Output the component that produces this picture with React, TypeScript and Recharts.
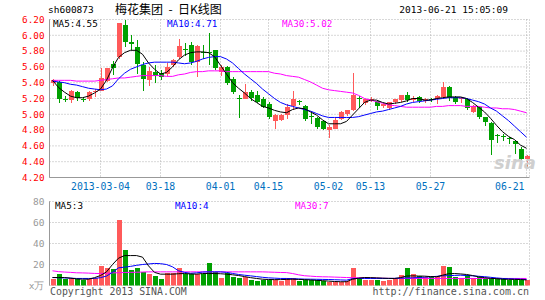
import React from "react";
import { Bar, CartesianGrid, ComposedChart, Line, XAxis, YAxis } from "recharts";

const dates = [
  "2013-02-20", "2013-02-21", "2013-02-22", "2013-02-25", "2013-02-26", "2013-02-27", "2013-02-28", "2013-03-01",
  "2013-03-04", "2013-03-05", "2013-03-06", "2013-03-07", "2013-03-08", "2013-03-11", "2013-03-12", "2013-03-13",
  "2013-03-14", "2013-03-15", "2013-03-18", "2013-03-19", "2013-03-20", "2013-03-21", "2013-03-22", "2013-03-25",
  "2013-03-26", "2013-03-27", "2013-03-28", "2013-03-29", "2013-04-01", "2013-04-02", "2013-04-03", "2013-04-08",
  "2013-04-09", "2013-04-10", "2013-04-11", "2013-04-12", "2013-04-15", "2013-04-16", "2013-04-17", "2013-04-18",
  "2013-04-19", "2013-04-22", "2013-04-23", "2013-04-24", "2013-04-25", "2013-04-26", "2013-05-02", "2013-05-03",
  "2013-05-06", "2013-05-07", "2013-05-08", "2013-05-09", "2013-05-10", "2013-05-13", "2013-05-14", "2013-05-15",
  "2013-05-16", "2013-05-17", "2013-05-20", "2013-05-21", "2013-05-22", "2013-05-23", "2013-05-24", "2013-05-27",
  "2013-05-28", "2013-05-29", "2013-05-30", "2013-05-31", "2013-06-03", "2013-06-04", "2013-06-05", "2013-06-06",
  "2013-06-07", "2013-06-13", "2013-06-14", "2013-06-17", "2013-06-18", "2013-06-19", "2013-06-20", "2013-06-21",
];

const open = [
  5.39, 5.41, 5.2, 5.18, 5.28, 5.2, 5.19, 5.28, 5.3, 5.42,
  5.64, 5.72, 6.13, 5.91, 5.85, 5.63, 5.43, 5.53, 5.52, 5.51,
  5.62, 5.72, 5.83, 5.88, 5.66, 5.79, 5.79, 5.81, 5.53, 5.6,
  5.45, 5.21, 5.2, 5.28, 5.25, 5.2, 5.13, 4.92, 4.93, 4.99,
  5.11, 5.17, 5.1, 4.98, 4.95, 4.91, 4.8, 4.82, 4.94, 5.0,
  5.06, 5.21, 5.14, 5.17, 5.17, 5.1, 5.08, 5.15, 5.18, 5.25,
  5.18, 5.22, 5.17, 5.2, 5.19, 5.22, 5.34, 5.22, 5.19, 5.19,
  5.03, 5.09, 4.96, 4.89, 4.74, 4.72, 4.7, 4.66, 4.56, 4.44,
];
const close = [
  5.44, 5.2, 5.19, 5.29, 5.21, 5.19, 5.28, 5.3, 5.46, 5.58,
  5.58, 6.15, 5.92, 5.89, 5.64, 5.45, 5.55, 5.48, 5.47, 5.6,
  5.69, 5.87, 5.81, 5.66, 5.86, 5.78, 5.77, 5.58, 5.6, 5.39,
  5.28, 5.19, 5.28, 5.21, 5.16, 5.09, 4.96, 4.99, 4.99, 5.09,
  5.19, 5.16, 4.94, 4.97, 4.84, 4.82, 4.84, 4.93, 5.03, 5.05,
  5.24, 5.2, 5.19, 5.2, 5.11, 5.13, 5.15, 5.19, 5.24, 5.18,
  5.21, 5.17, 5.2, 5.18, 5.23, 5.34, 5.21, 5.16, 5.21, 5.08,
  5.11, 4.96, 4.9, 4.68, 4.73, 4.71, 4.69, 4.62, 4.44, 4.47,
];
const high = [
  5.45, 5.42, 5.23, 5.31, 5.3, 5.22, 5.3, 5.32, 5.59, 5.59,
  5.68, 6.15, 6.2, 6.01, 5.94, 5.66, 5.6, 5.62, 5.56, 5.65,
  5.7, 5.95, 5.9, 5.91, 5.88, 5.88, 6.03, 5.82, 5.63, 5.61,
  5.47, 5.25, 5.38, 5.31, 5.29, 5.22, 5.15, 5.0, 5.0, 5.13,
  5.29, 5.18, 5.12, 5.02, 4.97, 4.92, 4.86, 4.95, 5.04, 5.06,
  5.52, 5.23, 5.2, 5.22, 5.18, 5.14, 5.16, 5.2, 5.25, 5.28,
  5.23, 5.23, 5.21, 5.21, 5.24, 5.41, 5.36, 5.23, 5.22, 5.21,
  5.12, 5.1, 4.97, 4.9, 4.75, 4.75, 4.71, 4.67, 4.59, 4.48,
];
const low = [
  5.36, 5.14, 5.16, 5.14, 5.17, 5.15, 5.17, 5.22, 5.29, 5.41,
  5.5, 5.7, 5.85, 5.82, 5.51, 5.29, 5.36, 5.39, 5.44, 5.49,
  5.6, 5.7, 5.74, 5.63, 5.47, 5.7, 5.63, 5.56, 5.49, 5.37,
  5.26, 4.95, 5.19, 5.17, 5.14, 5.08, 4.94, 4.82, 4.91, 4.94,
  5.05, 5.12, 4.92, 4.88, 4.82, 4.8, 4.7, 4.81, 4.93, 4.98,
  5.04, 5.08, 5.12, 5.15, 5.06, 5.08, 5.05, 5.13, 5.16, 5.16,
  5.15, 5.14, 5.14, 5.16, 5.13, 5.2, 5.17, 5.13, 5.14, 5.06,
  5.02, 4.94, 4.85, 4.49, 4.64, 4.66, 4.63, 4.5, 4.42, 4.32,
];

const ma5 = [
  5.43, 5.34, 5.28, 5.23, 5.21, 5.21, 5.23, 5.27, 5.32, 5.43,
  5.59, 5.72, 5.78, 5.81, 5.81, 5.76, 5.65, 5.57, 5.51, 5.53,
  5.6, 5.69, 5.75, 5.78, 5.79, 5.79, 5.78, 5.73, 5.62, 5.51,
  5.4, 5.33, 5.27, 5.2, 5.15, 5.1, 5.08, 5.05, 5.03, 5.02,
  5.06, 5.08, 5.07, 5.03, 4.99, 4.93, 4.88, 4.88, 4.88, 4.91,
  4.99, 5.07, 5.15, 5.18, 5.18, 5.15, 5.13, 5.14, 5.15, 5.17,
  5.2, 5.2, 5.18, 5.18, 5.2, 5.21, 5.22, 5.22, 5.22, 5.2,
  5.15, 5.09, 5.03, 4.95, 4.86, 4.78, 4.72, 4.68, 4.61, 4.57,
];
const ma10 = [
  5.42, 5.41, 5.4, 5.38, 5.37, 5.35, 5.33, 5.32, 5.31, 5.32,
  5.36, 5.45, 5.52, 5.57, 5.6, 5.63, 5.65, 5.66, 5.66, 5.66,
  5.66, 5.65, 5.64, 5.65, 5.67, 5.7, 5.72, 5.73, 5.73, 5.7,
  5.65, 5.58, 5.51, 5.45, 5.39, 5.32, 5.26, 5.2, 5.15, 5.12,
  5.1, 5.08, 5.06, 5.04, 5.01, 4.98, 4.96, 4.96, 4.96, 4.96,
  4.96, 4.97, 4.99, 5.01, 5.03, 5.04, 5.06, 5.08, 5.1, 5.13,
  5.15, 5.16, 5.17, 5.18, 5.19, 5.2, 5.21, 5.21, 5.21, 5.2,
  5.18, 5.16, 5.13, 5.08, 5.04, 4.98, 4.92, 4.85, 4.78, 4.71,
];
const ma30 = [
  5.43, 5.43, 5.43, 5.43, 5.42, 5.42, 5.42, 5.42, 5.43, 5.44,
  5.45, 5.46, 5.46, 5.47, 5.48, 5.49, 5.49, 5.49, 5.49, 5.48,
  5.48, 5.5, 5.51, 5.53, 5.54, 5.54, 5.55, 5.55, 5.55, 5.54,
  5.54, 5.54, 5.54, 5.54, 5.54, 5.54, 5.54, 5.52, 5.51, 5.49,
  5.48, 5.47, 5.44, 5.41, 5.37, 5.33, 5.31, 5.3, 5.29, 5.28,
  5.27, 5.24, 5.2, 5.18, 5.16, 5.14, 5.12, 5.11, 5.1, 5.09,
  5.09, 5.09, 5.09, 5.09, 5.1, 5.1, 5.11, 5.11, 5.11, 5.1,
  5.1, 5.1, 5.09, 5.08, 5.08, 5.07, 5.07, 5.06, 5.04, 5.02,
];

const volume = [
  6.0, 10.8, 6.0, 6.7, 6.0, 5.1, 6.0, 6.7, 18.4, 17.1,
  15.6, 62.0, 33.7, 14.6, 17.1, 13.0, 11.4, 8.9, 6.0, 12.1,
  12.1, 16.8, 11.4, 10.5, 11.4, 11.4, 21.6, 13.0, 7.3, 12.1,
  8.3, 6.7, 8.3, 5.1, 4.4, 5.1, 5.7, 5.1, 4.1, 7.3,
  7.3, 4.4, 5.1, 5.1, 5.1, 4.4, 3.5, 3.5, 3.5, 4.1,
  16.8, 6.7, 5.7, 5.7, 5.7, 4.4, 5.7, 7.6, 9.8, 16.8,
  10.5, 8.9, 8.3, 8.3, 8.9, 18.7, 17.5, 8.3, 7.3, 9.8,
  6.7, 8.3, 7.3, 6.7, 6.7, 6.0, 5.7, 5.7, 5.7, 5.1,
];
const volMa5 = [
  7.6, 7.6, 7.6, 7.0, 6.3, 6.0, 6.0, 7.5, 9.5, 13.0,
  20.0, 26.0, 28.5, 28.5, 28.5, 27.0, 18.7, 12.5, 10.8, 10.8,
  10.8, 11.2, 11.4, 11.0, 10.8, 11.4, 11.4, 11.4, 11.2, 10.8,
  10.2, 9.5, 8.5, 7.5, 6.7, 6.0, 5.7, 5.6, 5.6, 5.8,
  6.0, 5.8, 5.6, 5.3, 4.9, 4.6, 4.2, 3.8, 3.6, 3.6,
  6.0, 7.0, 7.6, 7.5, 7.3, 7.0, 6.8, 6.7, 7.5, 9.0,
  9.2, 9.0, 8.9, 8.5, 8.3, 9.8, 11.2, 11.4, 11.0, 10.5,
  9.5, 8.3, 7.5, 6.8, 6.5, 6.0, 5.9, 5.8, 5.7, 5.3,
];
const volMa10 = [
  7.6, 7.4, 7.2, 7.0, 6.7, 6.7, 6.7, 6.7, 7.5, 9.0,
  12.5, 16.8, 17.5, 18.2, 19.2, 20.0, 20.5, 21.0, 20.8, 20.0,
  17.8, 14.0, 12.5, 11.6, 12.0, 12.8, 13.0, 13.0, 13.0, 12.5,
  11.5, 10.5, 9.8, 9.2, 8.5, 7.8, 7.3, 7.0, 6.7, 6.7,
  6.5, 6.3, 6.1, 6.0, 5.9, 5.8, 5.7, 5.5, 5.3, 5.1,
  6.5, 6.7, 6.7, 6.7, 6.7, 6.7, 6.7, 6.8, 7.0, 7.2,
  7.3, 7.6, 7.9, 8.3, 8.7, 9.2, 9.4, 9.6, 9.8, 9.5,
  9.2, 8.8, 8.4, 7.8, 7.2, 6.7, 6.4, 6.2, 6.0, 5.7,
];
const volMa30 = [
  14.0, 13.2, 12.8, 12.5, 12.1, 12.0, 11.8, 11.5, 11.4, 11.6,
  12.0, 12.2, 12.4, 12.5, 12.6, 12.8, 13.0, 13.0, 13.0, 13.0,
  13.0, 13.0, 13.0, 13.0, 13.0, 13.0, 13.0, 13.0, 13.0, 13.0,
  13.0, 13.0, 13.0, 13.0, 13.0, 13.0, 12.8, 12.6, 12.4, 12.3,
  11.4, 10.2, 9.3, 8.9, 8.5, 8.3, 8.2, 8.0, 7.8, 7.6,
  7.5, 7.4, 7.3, 7.2, 7.0, 6.9, 6.8, 6.7, 6.7, 6.7,
  6.7, 6.7, 6.7, 6.7, 6.7, 6.7, 6.7, 6.7, 6.7, 6.7,
  6.7, 6.7, 6.7, 6.7, 6.7, 6.7, 6.7, 6.7, 6.7, 6.7,
];

const tickDates = ["2013-03-04", "2013-03-18", "2013-04-01", "2013-04-15", "2013-05-02", "2013-05-13", "2013-05-27", "2013-06-21"];
const tickText = ["2013-03-04", "03-18", "04-01", "04-15", "05-02", "05-13", "05-27", "06-21"];
const priceTicks = [4.2, 4.4, 4.6, 4.8, 5.0, 5.2, 5.4, 5.6, 5.8, 6.0, 6.2];
const volTicks = [0, 20, 40, 60, 80];

const MONO = '"DejaVu Sans Mono", "Liberation Mono", monospace';
const CJK = '"Noto Sans CJK SC", sans-serif';
const UP = "#ff5a5a";
const DOWN = "#00a000";
const FRAME = "#999999";
const GRID = "#b0b0b0";

const rows = dates.map((d, i) => ({
  d,
  o: open[i],
  c: close[i],
  h: high[i],
  l: low[i],
  ma5: ma5[i],
  ma10: ma10[i],
  ma30: ma30[i],
  v: volume[i],
  vm5: volMa5[i],
  vm10: volMa10[i],
  vm30: volMa30[i],
}));

function Candle(props: any) {
  const { x, y, width, height, payload } = props;
  if (x == null || !payload) return null;
  const top = Math.min(y, y + height);
  const bot = Math.max(y, y + height);
  const span = payload.h - payload.l;
  const py = (p: number) => (span > 0 ? top + ((payload.h - p) / span) * (bot - top) : top);
  const color = payload.c >= payload.o ? UP : DOWN;
  const bx = Math.round(x + width / 2 - 2.5);
  const b1 = Math.round(py(Math.max(payload.o, payload.c)));
  const b2 = Math.round(py(Math.min(payload.o, payload.c)));
  const t = Math.round(top);
  const b = Math.round(bot);
  return (
    <g>
      <rect x={bx + 2} y={t} width={1} height={Math.max(1, b - t)} fill={color} />
      <rect x={bx} y={b1} width={5} height={Math.max(1, b2 - b1)} fill={color} />
    </g>
  );
}

function VolBar(props: any) {
  const { x, y, width, height, payload } = props;
  if (x == null || !payload) return null;
  const bx = Math.round(x + width / 2 - 2.5);
  const t = Math.round(y);
  const b = Math.round(y + height);
  return <rect x={bx} y={t} width={5} height={Math.max(1, b - t)} fill={payload.c >= payload.o ? UP : DOWN} />;
}

function DateTick(props: any) {
  const { x, y, payload } = props;
  const i = tickDates.indexOf(payload.value);
  if (i < 0) return null;
  const last = i === tickDates.length - 1;
  return (
    <text
      x={last ? x - 2 : x}
      y={y + 10}
      textAnchor={last ? "end" : "middle"}
      fill="#0070c0"
      fontSize={9.8}
      fontFamily={MONO}
    >
      {tickText[i]}
    </text>
  );
}

const txt = (left: number, top: number, color: string, text: string, size = 9.3, family = MONO) => (
  <div
    style={{
      position: "absolute",
      left,
      top,
      color,
      fontSize: size,
      fontFamily: family,
      lineHeight: "12px",
      whiteSpace: "pre",
    }}
  >
    {text}
  </div>
);

export default function App() {
  return (
    <div style={{ position: "absolute", left: 0, top: 0, width: 545, height: 300, background: "#fff", overflow: "hidden" }}>
      {txt(48, 4, "#000", "sh600873", 9.5)}
      {txt(115, 3, "#000", "梅花集团  -  日K线图", 12, CJK)}
      <div
        style={{
          position: "absolute",
          left: 300,
          width: 208,
          top: 4,
          textAlign: "right",
          fontSize: 9.5,
          fontFamily: MONO,
          lineHeight: "12px",
        }}
      >
        2013-06-21 15:05:09
      </div>

      <div style={{ position: "absolute", left: 0, top: 0 }}>
        <ComposedChart
          width={545}
          height={198}
          data={rows}
          margin={{ top: 19.5, right: 15.5, bottom: 0, left: 0.5 }}
        >
          <CartesianGrid stroke={GRID} strokeDasharray="1 2" />
          <XAxis
            dataKey="d"
            ticks={tickDates}
            interval={0}
            height={20.5}
            tickLine={false}
            tickSize={0}
            axisLine={{ stroke: FRAME }}
            tick={<DateTick />}
          />
          <XAxis xAxisId="top" orientation="top" dataKey="d" height={0} tick={false} tickLine={false} axisLine={{ stroke: FRAME }} />
          <YAxis
            domain={[4.2, 6.2]}
            ticks={priceTicks}
            interval={0}
            allowDataOverflow
            width={49}
            tickLine={false}
            tickSize={0}
            tickMargin={5}
            axisLine={{ stroke: FRAME }}
            tick={{ fill: "#ff0000", fontSize: 9.3, fontFamily: MONO }}
            tickFormatter={(v: number) => v.toFixed(2)}
          />
          <YAxis yAxisId="right" orientation="right" width={0} domain={[0, 1]} tick={false} tickLine={false} axisLine={{ stroke: FRAME }} />
          <Bar dataKey={(r: any) => [r.l, r.h]} barSize={5} shape={Candle} isAnimationActive={false} />
          <Line dataKey="ma30" stroke="#ff00ff" strokeWidth={1} dot={false} isAnimationActive={false} />
          <Line dataKey="ma10" stroke="#0000ff" strokeWidth={1} dot={false} isAnimationActive={false} />
          <Line dataKey="ma5" stroke="#000000" strokeWidth={1} dot={false} isAnimationActive={false} />
        </ComposedChart>
      </div>

      {txt(53, 17.5, "#000", "MA5:4.55")}
      {txt(167, 17.5, "#0000ff", "MA10:4.71")}
      {txt(282, 17.5, "#ff00ff", "MA30:5.02")}
      <div
        style={{
          position: "absolute",
          left: 494,
          top: 153,
          fontSize: 18,
          fontWeight: "bold",
          fontStyle: "italic",
          fontFamily: '"DejaVu Sans", sans-serif',
          color: "#cfcfcf",
          lineHeight: "20px",
        }}
      >
        sina
      </div>

      <div style={{ position: "absolute", left: 0, top: 190 }}>
        <ComposedChart
          width={545}
          height={110}
          data={rows}
          margin={{ top: 11.5, right: 15.5, bottom: 14.5, left: 0.5 }}
        >
          <CartesianGrid stroke={GRID} strokeDasharray="1 2" />
          <XAxis dataKey="d" ticks={tickDates} interval={0} height={0} tick={false} tickLine={false} axisLine={false} />
          <XAxis xAxisId="top" orientation="top" dataKey="d" height={0} tick={false} tickLine={false} axisLine={{ stroke: FRAME }} />
          <YAxis
            domain={[0, 80]}
            ticks={volTicks}
            interval={0}
            allowDataOverflow
            width={49}
            tickLine={false}
            tickSize={0}
            tickMargin={5}
            axisLine={{ stroke: FRAME }}
            tick={{ fill: "#999999", fontSize: 9.5, fontFamily: MONO }}
            tickFormatter={(v: number) => (v === 0 ? "x万" : String(v))}
          />
          <YAxis yAxisId="right" orientation="right" width={0} domain={[0, 1]} tick={false} tickLine={false} axisLine={{ stroke: FRAME }} />
          <Bar dataKey="v" barSize={5} shape={VolBar} isAnimationActive={false} />
          <Line dataKey="vm30" stroke="#ff00ff" strokeWidth={1} dot={false} isAnimationActive={false} />
          <Line dataKey="vm10" stroke="#0000ff" strokeWidth={1} dot={false} isAnimationActive={false} />
          <Line dataKey="vm5" stroke="#000000" strokeWidth={1} dot={false} isAnimationActive={false} />
        </ComposedChart>
      </div>

      {txt(55, 199.5, "#000", "MA5:3")}
      {txt(175, 199.5, "#0000ff", "MA10:4")}
      {txt(295, 199.5, "#ff00ff", "MA30:7")}
      {txt(50, 286, "#555555", "Copyright 2013 SINA.COM", 9.9)}
      <div
        style={{
          position: "absolute",
          left: 300,
          width: 229,
          top: 286,
          textAlign: "right",
          fontSize: 10,
          fontFamily: MONO,
          color: "#555555",
          lineHeight: "12px",
        }}
      >
        http://finance.sina.com.cn
      </div>
    </div>
  );
}
